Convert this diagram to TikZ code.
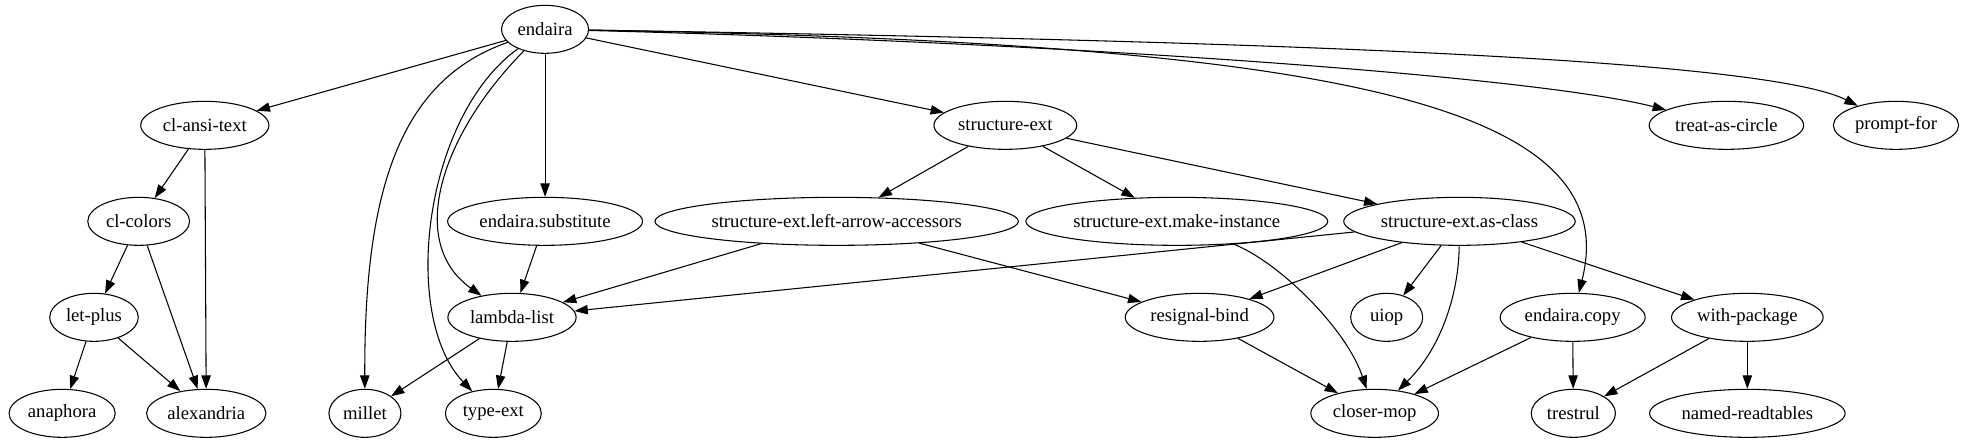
\documentclass[tikz,border=0pt]{standalone}
\usepackage{fontspec}
\setmainfont{Liberation Serif}
\usetikzlibrary{arrows.meta,shapes.geometric}

\begin{document}
\begin{tikzpicture}[
  x=1pt, y=1pt,
  line/.style={draw=black, line width=0.8pt},
  pkg/.style={line, ellipse, minimum width=54pt, minimum height=36pt, inner xsep=2.5pt, inner ysep=2pt, font=\fontsize{14}{16}\selectfont},
  arrow/.style={-{Triangle[length=10pt,width=7pt]}, line}
]
\fill[white] (0,0) rectangle (1476,332);
\useasboundingbox (0,0) rectangle (1476,332);

% top rank
\node[pkg] (endaira) at (408.8,310) {endaira};

% second rank
\node[pkg] (clansi) at (153.6,238) {cl-ansi-text};
\node[pkg] (structext) at (754,238) {structure-ext};
\node[pkg] (treat) at (1294.8,238) {treat-as-circle};
\node[pkg] (prompt) at (1422,238) {prompt-for};

% third rank
\node[pkg] (clcolors) at (104,166) {cl-colors};
\node[pkg] (subst) at (408.8,166) {endaira.substitute};
\node[pkg] (leftarrow) at (627.5,166) {structure-ext.left-arrow-accessors};
\node[pkg] (makeinst) at (882.6,166) {structure-ext.make-instance};
\node[pkg] (asclass) at (1094.6,166) {structure-ext.as-class};

% fourth rank
\node[pkg] (letplus) at (70.5,94) {let-plus};
\node[pkg] (lambdalist) at (384,94) {lambda-list};
\node[pkg] (resignal) at (899.7,94) {resignal-bind};
\node[pkg] (uiop) at (1040,94) {uiop};
\node[pkg] (encopy) at (1179.5,94) {endaira.copy};
\node[pkg] (withpkg) at (1310.5,94) {with-package};

% bottom rank
\node[pkg] (anaphora) at (46.6,22) {anaphora};
\node[pkg] (alexandria) at (154.7,22) {alexandria};
\node[pkg] (millet) at (273.7,22) {millet};
\node[pkg] (typeext) at (370,22) {type-ext};
\node[pkg] (closermop) at (1031,22) {closer-mop};
\node[pkg] (trestrul) at (1180,22) {trestrul};
\node[pkg] (readtables) at (1310.5,22) {named-readtables};

% edges from endaira
\draw[arrow] (endaira) -- (clansi);
\draw[arrow] (endaira) -- (structext);
\draw[arrow] (endaira) -- (subst);
\draw[arrow] (endaira) .. controls (800,300) and (1150,275) .. (treat);
\draw[arrow] (endaira) .. controls (900,302) and (1320,290) .. (prompt);
\draw[arrow] (endaira) .. controls (1000,300) and (1220,255) .. (encopy);
\draw[arrow] (endaira) .. controls (300,272) and (273,190) .. (millet);
\draw[arrow] (endaira) .. controls (318,245) and (300,95) .. (typeext);
\draw[arrow] (endaira) .. controls (330,230) and (305,150) .. (lambdalist);

\draw[arrow] (clansi) -- (clcolors);
\draw[arrow] (clansi) -- (alexandria);
\draw[arrow] (clcolors) -- (letplus);
\draw[arrow] (clcolors) -- (alexandria);
\draw[arrow] (letplus) -- (anaphora);
\draw[arrow] (letplus) -- (alexandria);
\draw[arrow] (subst) -- (lambdalist);
\draw[arrow] (lambdalist) -- (millet);
\draw[arrow] (lambdalist) -- (typeext);

\draw[arrow] (structext) -- (leftarrow);
\draw[arrow] (structext) -- (makeinst);
\draw[arrow] (structext) -- (asclass);
\draw[arrow] (leftarrow) -- (lambdalist);
\draw[arrow] (leftarrow) -- (resignal);
\draw[arrow] (makeinst) .. controls (960,135) and (1010,85) .. (closermop);
\draw[arrow] (asclass) -- (lambdalist);
\draw[arrow] (asclass) -- (resignal);
\draw[arrow] (asclass) -- (uiop);
\draw[arrow] (asclass) .. controls (1094,110) and (1080,70) .. (closermop);
\draw[arrow] (asclass) -- (withpkg);

\draw[arrow] (resignal) -- (closermop);
\draw[arrow] (encopy) -- (closermop);
\draw[arrow] (encopy) -- (trestrul);
\draw[arrow] (withpkg) -- (trestrul);
\draw[arrow] (withpkg) -- (readtables);

\end{tikzpicture}
\end{document}
